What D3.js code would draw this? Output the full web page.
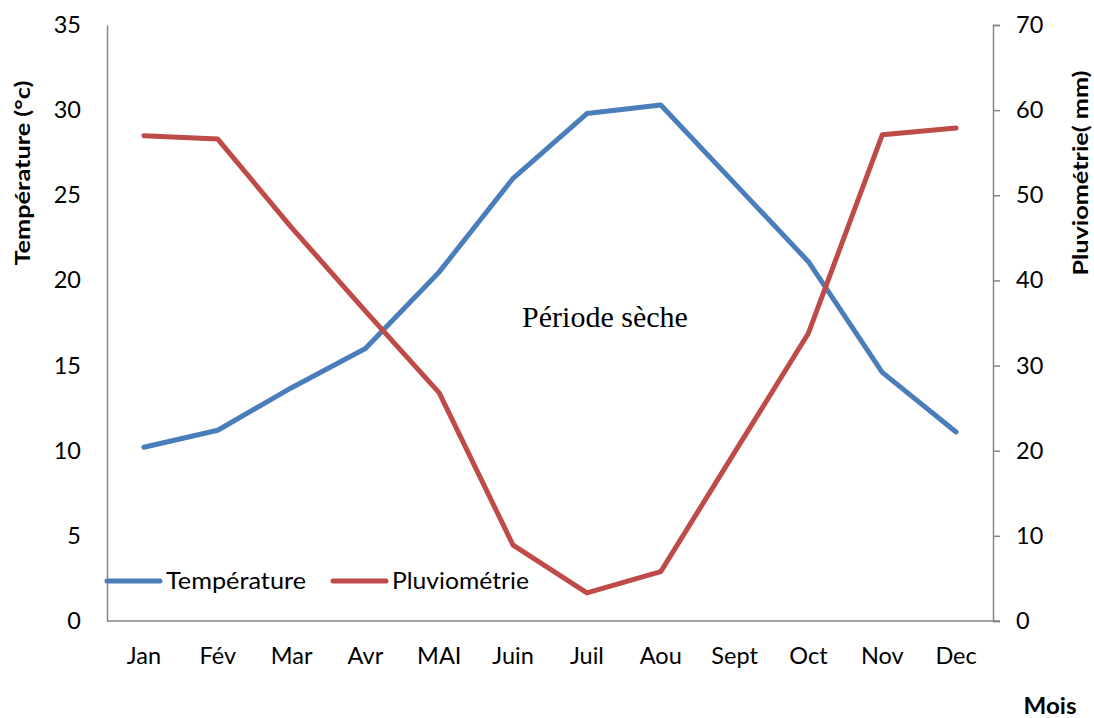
<!DOCTYPE html>
<html>
<head>
<meta charset="utf-8">
<script src="https://cdn.jsdelivr.net/npm/d3@7"></script>
<style>
  body { margin: 0; background: #fff; }
  svg { display: block; }
</style>
</head>
<body>
<div id="chart"></div>
<script>
// données
const months = ["Jan", "Fév", "Mar", "Avr", "MAI", "Juin", "Juil", "Aou", "Sept", "Oct", "Nov", "Dec"];
const temperature = [10.2, 11.2, 13.7, 16.0, 20.5, 26.0, 29.8, 30.3, 25.7, 21.1, 14.6, 11.1];
const pluvio = [57.0, 56.6, 46.2, 36.4, 26.8, 8.9, 3.3, 5.8, 19.8, 33.8, 57.1, 57.9];
const leftTicks = [0, 5, 10, 15, 20, 25, 30, 35];
const rightTicks = [0, 10, 20, 30, 40, 50, 60, 70];

const width = 1094, height = 718;
const margin = { top: 25, right: 101, bottom: 97, left: 107 };
const axisColor = "#868686";
const font = "Lato, 'Open Sans', sans-serif";

const svg = d3.select("#chart").append("svg")
  .attr("width", width)
  .attr("height", height);

const x = d3.scaleBand()
  .domain(months)
  .range([margin.left, width - margin.right]);

const yL = d3.scaleLinear().domain([0, 35]).range([height - margin.bottom, margin.top]);
const yR = d3.scaleLinear().domain([0, 70]).range([height - margin.bottom, margin.top]);

const x0 = margin.left, x1 = width - margin.right;
const yBottom = height - margin.bottom;

// axe gauche (sans graduations)
const gL = svg.append("g")
  .attr("transform", `translate(${x0},0)`)
  .call(d3.axisLeft(yL).tickValues(leftTicks).tickSize(0).tickPadding(26));

// axe droit
const gR = svg.append("g")
  .attr("transform", `translate(${x1},0)`)
  .call(d3.axisRight(yR).tickValues(rightTicks).tickSize(7).tickPadding(16));

// axe du bas
const gB = svg.append("g")
  .attr("transform", `translate(0,${yBottom})`)
  .call(d3.axisBottom(x).tickSize(0).tickPadding(26));

[gL, gR, gB].forEach(g => {
  g.select(".domain").attr("stroke", axisColor).attr("stroke-width", 1.5);
  g.selectAll(".tick line").attr("stroke", axisColor).attr("stroke-width", 1.5);
  g.selectAll("text")
    .attr("fill", "#000")
    .style("font-family", font)
    .style("font-size", "23.5px");
});
gB.select(".domain").attr("d", `M${x0},0H${x1 + 7}`);

// lignes
const lineT = d3.line()
  .x((d, i) => x(months[i]) + x.bandwidth() / 2)
  .y(d => yL(d));
const lineP = d3.line()
  .x((d, i) => x(months[i]) + x.bandwidth() / 2)
  .y(d => yR(d));

svg.append("path")
  .datum(temperature)
  .attr("d", lineT)
  .attr("fill", "none")
  .attr("stroke", "#4A7EBB")
  .attr("stroke-width", 5)
  .attr("stroke-linecap", "round")
  .attr("stroke-linejoin", "round");

svg.append("path")
  .datum(pluvio)
  .attr("d", lineP)
  .attr("fill", "none")
  .attr("stroke", "#BE4B48")
  .attr("stroke-width", 5)
  .attr("stroke-linecap", "round")
  .attr("stroke-linejoin", "round");

// légende
const legend = [
  { name: "Température", color: "#4A7EBB", x: 107, w: 140 },
  { name: "Pluviométrie", color: "#BE4B48", x: 333, w: 137 }
];
const leg = svg.append("g").selectAll("g")
  .data(legend)
  .join("g")
  .attr("transform", d => `translate(${d.x},581)`);
leg.append("line")
  .attr("x1", 0).attr("x2", 53)
  .attr("stroke", d => d.color)
  .attr("stroke-width", 5)
  .attr("stroke-linecap", "round");
leg.append("text")
  .attr("x", 59)
  .attr("dy", "0.35em")
  .attr("textLength", d => d.w)
  .attr("lengthAdjust", "spacingAndGlyphs")
  .text(d => d.name)
  .style("font-family", font)
  .style("font-size", "23.5px");

// titres des axes
svg.append("text")
  .attr("transform", "translate(30,173) rotate(-90)")
  .attr("text-anchor", "middle")
  .attr("textLength", 185)
  .attr("lengthAdjust", "spacingAndGlyphs")
  .style("font-family", font)
  .style("font-size", "21px")
  .style("font-weight", "bold")
  .text("Température (°c)");

svg.append("text")
  .attr("transform", "translate(1088,173) rotate(-90)")
  .attr("text-anchor", "middle")
  .attr("textLength", 205)
  .attr("lengthAdjust", "spacingAndGlyphs")
  .style("font-family", font)
  .style("font-size", "21px")
  .style("font-weight", "bold")
  .text("Pluviométrie( mm)");

svg.append("text")
  .attr("x", 1050)
  .attr("y", 714)
  .attr("text-anchor", "middle")
  .attr("textLength", 53)
  .attr("lengthAdjust", "spacingAndGlyphs")
  .style("font-family", font)
  .style("font-size", "22px")
  .style("font-weight", "bold")
  .text("Mois");

svg.append("text")
  .attr("x", 605)
  .attr("y", 327)
  .attr("text-anchor", "middle")
  .style("font-family", "'Liberation Serif', 'Times New Roman', serif")
  .style("font-size", "30px")
  .text("Période sèche");
</script>
</body>
</html>
